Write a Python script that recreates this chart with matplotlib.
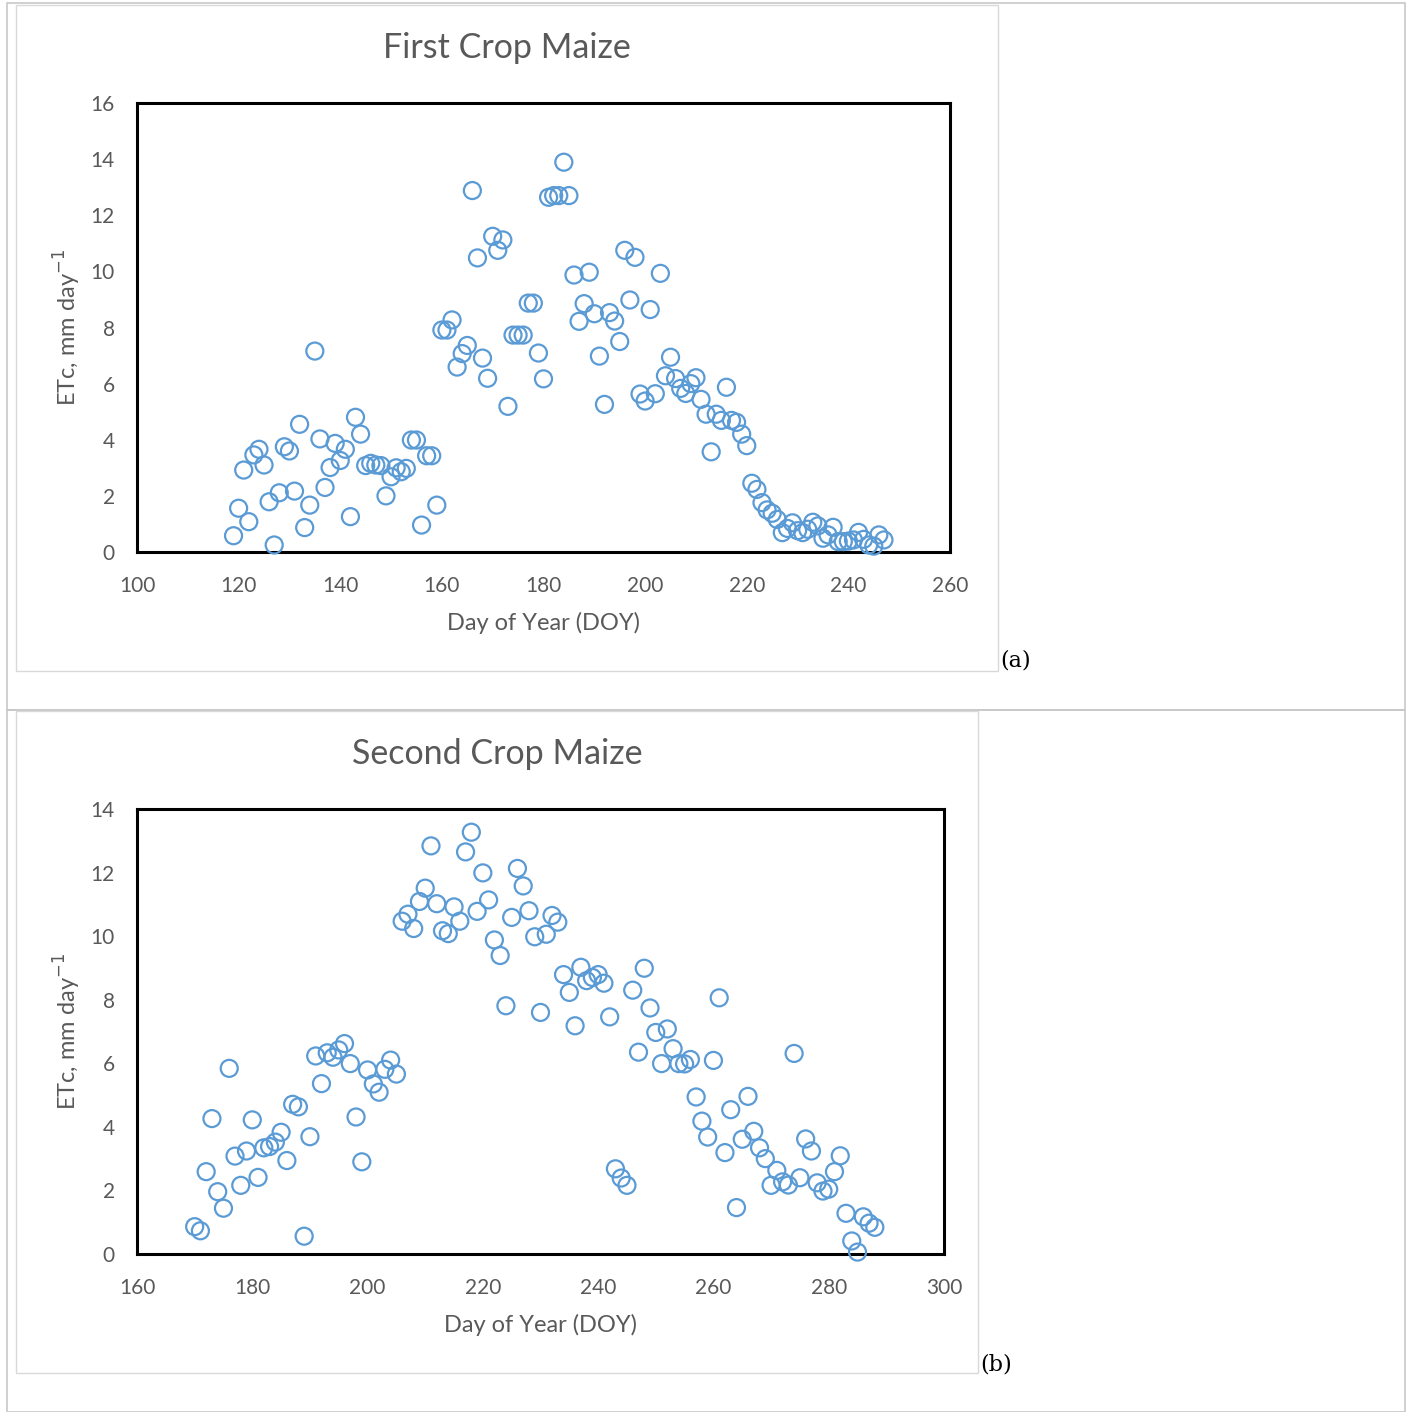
import matplotlib
matplotlib.use('Agg')

import matplotlib.pyplot as plt
from matplotlib.patches import Rectangle

# --- Data: first crop ---
doy_first = list(range(119, 248))
etc_first = [
    0.58, 1.56, 2.92, 1.08, 3.46, 3.66, 3.10, 1.79, 0.25, 2.11,
    3.75, 3.60, 2.17, 4.55, 0.87, 1.67, 7.16, 4.03, 2.30, 3.01,
    3.87, 3.26, 3.66, 1.26, 4.80, 4.20, 3.08, 3.16, 3.10, 3.08,
    2.00, 2.68, 3.00, 2.86, 2.98, 3.99, 3.99, 0.96, 3.43, 3.43,
    1.67, 7.91, 7.91, 8.27, 6.59, 7.07, 7.36, 12.88, 10.48, 6.91,
    6.19, 11.25, 10.75, 11.12, 5.19, 7.73, 7.73, 7.73, 8.87, 8.87,
    7.09, 6.17, 12.64, 12.70, 12.70, 13.89, 12.70, 9.87, 8.22, 8.85,
    9.97, 8.49, 6.98, 5.26, 8.53, 8.23, 7.50, 10.75, 8.98, 10.50,
    5.63, 5.38, 8.64, 5.64, 9.93, 6.28, 6.94, 6.18, 5.83, 5.65,
    6.00, 6.21, 5.44, 4.91, 3.57, 4.91, 4.69, 5.87, 4.69, 4.62,
    4.20, 3.79, 2.45, 2.23, 1.76, 1.50, 1.38, 1.16, 0.69, 0.84,
    1.04, 0.76, 0.69, 0.81, 1.06, 0.93, 0.49, 0.61, 0.88, 0.37,
    0.37, 0.39, 0.43, 0.70, 0.45, 0.25, 0.21, 0.61, 0.43,
]

# --- Data: second crop ---
doy_second = list(range(170, 289))
etc_second = [
    0.86, 0.73, 2.59, 4.26, 1.96, 1.44, 5.84, 3.08, 2.16, 3.24,
    4.22, 2.41, 3.34, 3.38, 3.52, 3.83, 2.94, 4.71, 4.63, 0.56,
    3.69, 6.23, 5.36, 6.33, 6.19, 6.42, 6.62, 5.99, 4.31, 2.90,
    5.79, 5.35, 5.09, 5.81, 6.10, 5.66, 10.47, 10.69, 10.24, 11.09,
    11.51, 12.84, 11.02, 10.17, 10.08, 10.92, 10.47, 12.65, 13.27, 10.78,
    11.99, 11.14, 9.88, 9.39, 7.81, 10.59, 12.13, 11.58, 10.80, 9.98,
    7.60, 10.06, 10.65, 10.44, 8.79, 8.23, 7.18, 9.02, 8.60, 8.70,
    8.79, 8.52, 7.46, 2.68, 2.39, 2.16, 8.30, 6.35, 8.99, 7.74,
    6.97, 5.99, 7.08, 6.46, 5.99, 5.98, 6.12, 4.94, 4.18, 3.68,
    6.09, 8.06, 3.19, 4.54, 1.46, 3.61, 4.96, 3.86, 3.34, 3.00,
    2.16, 2.63, 2.27, 2.17, 6.31, 2.40, 3.62, 3.24, 2.24, 1.98,
    2.04, 2.59, 3.09, 1.28, 0.41, 0.06, 1.17, 0.97, 0.84,
]

plt.rcParams['font.family'] = ['Lato', 'DejaVu Sans']

W = H = 1412
fig = plt.figure(figsize=(14.12, 14.12), dpi=100)
fig.patch.set_facecolor('white')

grey = '#595959'
blue = '#5B9BD5'
frame_col = '#c8c8c8'


def px_rect(x0, y0, x1, y1):
    # figure-fraction rectangle from pixel coords (origin top-left)
    return [x0 / W, 1 - y1 / H, (x1 - x0) / W, (y1 - y0) / H]


# outer page frames
for (x0, y0, x1, y1) in [(7, 3, 1405, 710), (7, 710, 1405, 1412)]:
    fig.add_artist(Rectangle((x0 / W, 1 - y1 / H), (x1 - x0) / W, (y1 - y0) / H,
                             transform=fig.transFigure, fill=False,
                             ec=frame_col, lw=1.2))
# chart area frames
for (x0, y0, x1, y1) in [(16, 5, 998, 671), (16, 711, 978, 1373)]:
    fig.add_artist(Rectangle((x0 / W, 1 - y1 / H), (x1 - x0) / W, (y1 - y0) / H,
                             transform=fig.transFigure, fill=False,
                             ec='#d9d9d9', lw=1.0))


def make_panel(rect, x, y, xlim, ylim, title, title_xy, xlabel_y):
    ax = fig.add_axes(rect)
    ax.scatter(x, y, s=150, facecolors='none', edgecolors=blue, linewidths=1.6,
               clip_on=False, zorder=3)
    ax.set_xlim(*xlim)
    ax.set_ylim(*ylim)
    ax.set_xticks(range(xlim[0], xlim[1] + 1, 20))
    ax.set_yticks(range(ylim[0], ylim[1] + 1, 2))
    ax.tick_params(length=0, labelsize=15, colors=grey)
    ax.tick_params(axis='x', pad=17)
    ax.tick_params(axis='y', pad=16)
    for sp in ax.spines.values():
        sp.set_linewidth(2.2)
        sp.set_color('black')
    fig.text(title_xy[0] / W, 1 - title_xy[1] / H, title, fontsize=24.5,
             color=grey, ha='center', va='center')
    fig.text((rect[0] + rect[2] / 2), 1 - xlabel_y / H, 'Day of Year (DOY)',
             fontsize=17, color=grey, ha='center', va='center')
    fig.text(67 / W, rect[1] + rect[3] / 2, 'ETc, mm day$^{-1}$', fontsize=17,
             color=grey, ha='center', va='center', rotation=90)
    return ax


make_panel(px_rect(137, 103, 950, 552), doy_first, etc_first, (100, 260), (0, 16),
           'First Crop Maize', (507, 48), 623)
make_panel(px_rect(137, 809, 944, 1254), doy_second, etc_second, (160, 300), (0, 14),
           'Second Crop Maize', (497, 754), 1325)

fig.text(1016 / W, 1 - 661 / H, '(a)', fontsize=16, family='DejaVu Serif',
         ha='center', va='center', color='black')
fig.text(996 / W, 1 - 1364 / H, '(b)', fontsize=16, family='DejaVu Serif',
         ha='center', va='center', color='black')

plt.savefig('out.png', dpi=100)
